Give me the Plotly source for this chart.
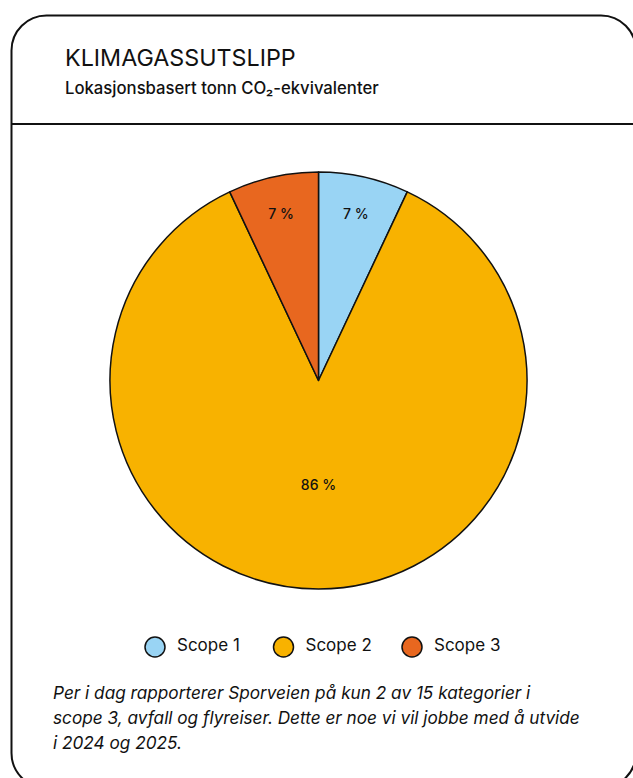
import plotly.graph_objects as go

# Emission shares per scope (percent)
scopes = ["Scope 1", "Scope 2", "Scope 3"]
shares = [7, 86, 7]
colors = ["#99D4F4", "#F8B200", "#E8671F"]

title_text = "KLIMAGASSUTSLIPP"
subtitle_text = "Lokasjonsbasert tonn CO₂-ekvivalenter"
note_lines = [
    "Per i dag rapporterer Sporveien på kun 2 av 15 kategorier i",
    "scope 3, avfall og flyreiser. Dette er noe vi vil jobbe med å utvide",
    "i 2024 og 2025.",
]

W, H = 633, 778
FONT = "Inter, Liberation Sans, Arial, sans-serif"
INK = "#111111"


def px_x(x):
    return x / W


def px_y(y):
    return 1 - y / H


fig = go.Figure()

# Pie chart
cx, cy, r = 318.5, 380.5, 208.5
fig.add_trace(go.Pie(
    labels=scopes,
    values=shares,
    sort=False,
    direction="clockwise",
    rotation=0,
    marker=dict(colors=colors, line=dict(color=INK, width=1.5)),
    texttemplate="%{value} %",
    textinfo="text",
    insidetextorientation="horizontal",
    textfont=dict(family=FONT, size=14, color=INK, weight=500),
    domain=dict(x=[px_x(cx - r), px_x(cx + r)], y=[px_y(cy + r), px_y(cy - r)]),
    showlegend=False,
    hoverinfo="skip",
))

# Legend row: circle markers with labels on a hidden axis
fig.add_trace(go.Scatter(
    x=list(range(len(scopes))),
    y=[0] * len(scopes),
    mode="markers+text",
    text=["\u2002" + s for s in scopes],
    textposition="middle right",
    textfont=dict(family=FONT, size=17, color=INK),
    marker=dict(size=20, color=colors, line=dict(color=INK, width=1.5)),
    showlegend=False,
    hoverinfo="skip",
    xaxis="x",
    yaxis="y",
))

scale = 128.5
x0 = -155 / scale
fig.update_layout(
    xaxis=dict(visible=False, domain=[0, 1], range=[x0, x0 + W / scale], fixedrange=True),
    yaxis=dict(visible=False, domain=[px_y(667), px_y(627)], range=[-1, 1], fixedrange=True),
)

# Card outline with rounded corners and header divider
L, T, R, B, rad = 11.5, 15.5, 636, 788, 35
k = 0.5523 * rad
path = (
    f"M {px_x(L)},{px_y(T + rad)} "
    f"C {px_x(L)},{px_y(T + rad - k)} {px_x(L + rad - k)},{px_y(T)} {px_x(L + rad)},{px_y(T)} "
    f"L {px_x(R - rad)},{px_y(T)} "
    f"C {px_x(R - rad + k)},{px_y(T)} {px_x(R)},{px_y(T + rad - k)} {px_x(R)},{px_y(T + rad)} "
    f"L {px_x(R)},{px_y(B - rad)} "
    f"C {px_x(R)},{px_y(B - rad + k)} {px_x(R - rad + k)},{px_y(B)} {px_x(R - rad)},{px_y(B)} "
    f"L {px_x(L + rad)},{px_y(B)} "
    f"C {px_x(L + rad - k)},{px_y(B)} {px_x(L)},{px_y(B - rad + k)} {px_x(L)},{px_y(B - rad)} Z"
)
fig.add_shape(type="path", path=path, xref="paper", yref="paper",
              line=dict(color=INK, width=2), fillcolor="rgba(0,0,0,0)", layer="above")
fig.add_shape(type="line", xref="paper", yref="paper",
              x0=px_x(L), x1=px_x(R), y0=px_y(124), y1=px_y(124),
              line=dict(color=INK, width=2))

# Header texts
fig.add_annotation(text=title_text, x=px_x(63), y=px_y(58), xref="paper", yref="paper",
                   xanchor="left", yanchor="middle", showarrow=False,
                   font=dict(family=FONT, size=23.3, color=INK))
fig.add_annotation(text=subtitle_text, x=px_x(63), y=px_y(88), xref="paper", yref="paper",
                   xanchor="left", yanchor="middle", showarrow=False,
                   font=dict(family=FONT, size=16.7, color=INK, weight=500))

# Footnote lines
for i, line in enumerate(note_lines):
    fig.add_annotation(text=f"<i>{line}</i>", x=px_x(51), y=px_y(692 + 25 * i),
                       xref="paper", yref="paper", xanchor="left", yanchor="middle",
                       showarrow=False, font=dict(family=FONT, size=17.2, color=INK))

fig.update_layout(
    width=W, height=H,
    margin=dict(l=0, r=0, t=0, b=0),
    paper_bgcolor="white",
    plot_bgcolor="rgba(0,0,0,0)",
)

fig.write_html("out.html", config={"displayModeBar": False})
